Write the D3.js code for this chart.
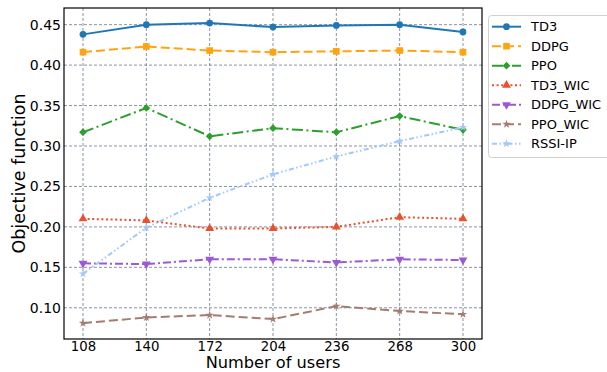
<!DOCTYPE html>
<html>
<head>
<meta charset="utf-8">
<script src="https://cdn.jsdelivr.net/npm/d3@7"></script>
<style>
  html, body { margin: 0; padding: 0; background: #fff; }
  svg { display: block; font-family: "DejaVu Sans", sans-serif; }
</style>
</head>
<body>
<svg id="chart" width="607" height="372"></svg>
<script>
// Number of users on the x axis
const users = [108, 140, 172, 204, 236, 268, 300];
const yTicks = [0.10, 0.15, 0.20, 0.25, 0.30, 0.35, 0.40, 0.45];

// Objective function per method
const td3      = [0.438, 0.450, 0.452, 0.447, 0.449, 0.450, 0.441];
const ddpg     = [0.416, 0.423, 0.418, 0.416, 0.417, 0.418, 0.416];
const ppo      = [0.317, 0.347, 0.312, 0.322, 0.317, 0.337, 0.320];
const td3Wic   = [0.210, 0.208, 0.198, 0.198, 0.200, 0.212, 0.210];
const ddpgWic  = [0.155, 0.154, 0.160, 0.160, 0.156, 0.160, 0.159];
const ppoWic   = [0.081, 0.088, 0.091, 0.086, 0.102, 0.096, 0.092];
const rssiIp   = [0.142, 0.199, 0.236, 0.265, 0.287, 0.306, 0.323];

const seriesNames = ["TD3", "DDPG", "PPO", "TD3_WIC", "DDPG_WIC", "PPO_WIC", "RSSI-IP"];
const seriesValues = [td3, ddpg, ppo, td3Wic, ddpgWic, ppoWic, rssiIp];

const styles = {
  "TD3":      { color: "#1f77b4", dash: null,                 symbol: d3.symbolCircle,   size: 36, rot: 0 },
  "DDPG":     { color: "#ffa40f", dash: "9,4",                symbol: d3.symbolSquare,   size: 44, rot: 0 },
  "PPO":      { color: "#2ca02c", dash: "11,3.5,2,3.5",       symbol: d3.symbolSquare,   size: 30, rot: 45 },
  "TD3_WIC":  { color: "#e8502f", dash: "2,2.6",              symbol: d3.symbolTriangle, size: 34, rot: 0 },
  "DDPG_WIC": { color: "#9b59d6", dash: "8,3,2,3",            symbol: d3.symbolTriangle, size: 34, rot: 180 },
  "PPO_WIC":  { color: "#a57c70", dash: "9,4",                symbol: d3.symbolStar,     size: 22, rot: 0 },
  "RSSI-IP":  { color: "#a3c8fa", dash: "5,2.5,1.5,2.5,1.5,2.5", symbol: d3.symbolStar,  size: 22, rot: 0 }
};

const svg = d3.select("#chart");
const margin = { left: 64, right: 125, top: 8, bottom: 33 };
const W = 607, H = 372;
const x0 = margin.left, x1 = W - margin.right, y0 = margin.top, y1 = H - margin.bottom;

const x = d3.scaleLinear().domain([98.4, 309.6]).range([x0, x1]);
const y = d3.scaleLinear().domain([0.0614, 0.4706]).range([y1, y0]);

// Grid lines
const grid = svg.append("g");
grid.selectAll("line.gx").data(users).join("line")
  .attr("x1", d => x(d)).attr("x2", d => x(d))
  .attr("y1", y0).attr("y2", y1)
  .attr("stroke", "#52627a").attr("stroke-width", 0.9)
  .attr("stroke-dasharray", "3,2").attr("opacity", 0.75);
grid.selectAll("line.gy").data(yTicks).join("line")
  .attr("x1", x0).attr("x2", x1)
  .attr("y1", d => y(d)).attr("y2", d => y(d))
  .attr("stroke", "#52627a").attr("stroke-width", 0.9)
  .attr("stroke-dasharray", "3,2").attr("opacity", 0.75);

// Axes (labels only, no tick marks)
const xAxis = d3.axisBottom(x).tickValues(users).tickSize(0).tickPadding(2.5).tickFormat(d3.format("d"));
const yAxis = d3.axisLeft(y).tickValues(yTicks).tickSize(0).tickPadding(3).tickFormat(d3.format(".2f"));
const gx = svg.append("g").attr("transform", `translate(0,${y1})`).call(xAxis);
const gy = svg.append("g").attr("transform", `translate(${x0},0)`).call(yAxis);
gx.selectAll("text").attr("font-size", 13.3);
gy.selectAll("text").attr("font-size", 14);
[gx, gy].forEach(g => {
  g.select(".domain").remove();
  g.selectAll("text").attr("fill", "#000").attr("font-family", "DejaVu Sans");
});

// Series lines and markers
const line = d3.line().x((d, i) => x(users[i])).y(d => y(d));
const plot = svg.append("g");
seriesNames.forEach((name, k) => {
  const s = styles[name];
  const vals = seriesValues[k];
  plot.append("path").datum(vals)
    .attr("d", line).attr("fill", "none")
    .attr("stroke", s.color).attr("stroke-width", 2)
    .attr("stroke-dasharray", s.dash);
  plot.selectAll(null).data(vals).join("path")
    .attr("d", d3.symbol().type(s.symbol).size(s.size))
    .attr("transform", (d, i) => `translate(${x(users[i])},${y(d)}) rotate(${s.rot})`)
    .attr("fill", s.color);
});

// Frame
svg.append("rect").attr("x", x0).attr("y", y0)
  .attr("width", x1 - x0).attr("height", y1 - y0)
  .attr("fill", "none").attr("stroke", "#000").attr("stroke-width", 1.2);

// Axis titles
svg.append("text").attr("x", (x0 + x1) / 2).attr("y", 368)
  .attr("text-anchor", "middle").attr("font-size", 16.2).text("Number of users");
svg.append("text").attr("transform", `translate(25,${(y0 + y1) / 2}) rotate(-90)`)
  .attr("text-anchor", "middle").attr("font-size", 17.5).text("Objective function");

// Legend
const lg = svg.append("g");
lg.append("rect").attr("x", 488.5).attr("y", 15.5).attr("width", 130).attr("height", 142)
  .attr("rx", 3).attr("fill", "#fff").attr("stroke", "#d0d0d0").attr("stroke-width", 1);
seriesNames.forEach((name, k) => {
  const s = styles[name];
  const cy = 26.7 + k * 19.5;
  lg.append("line").attr("x1", 492).attr("x2", 521).attr("y1", cy).attr("y2", cy)
    .attr("stroke", s.color).attr("stroke-width", 2).attr("stroke-dasharray", s.dash);
  lg.append("path").attr("d", d3.symbol().type(s.symbol).size(s.size))
    .attr("transform", `translate(506.5,${cy}) rotate(${s.rot})`).attr("fill", s.color);
  lg.append("text").attr("x", 531).attr("y", cy + 4.7).attr("font-size", 13).text(name);
});
</script>
</body>
</html>
